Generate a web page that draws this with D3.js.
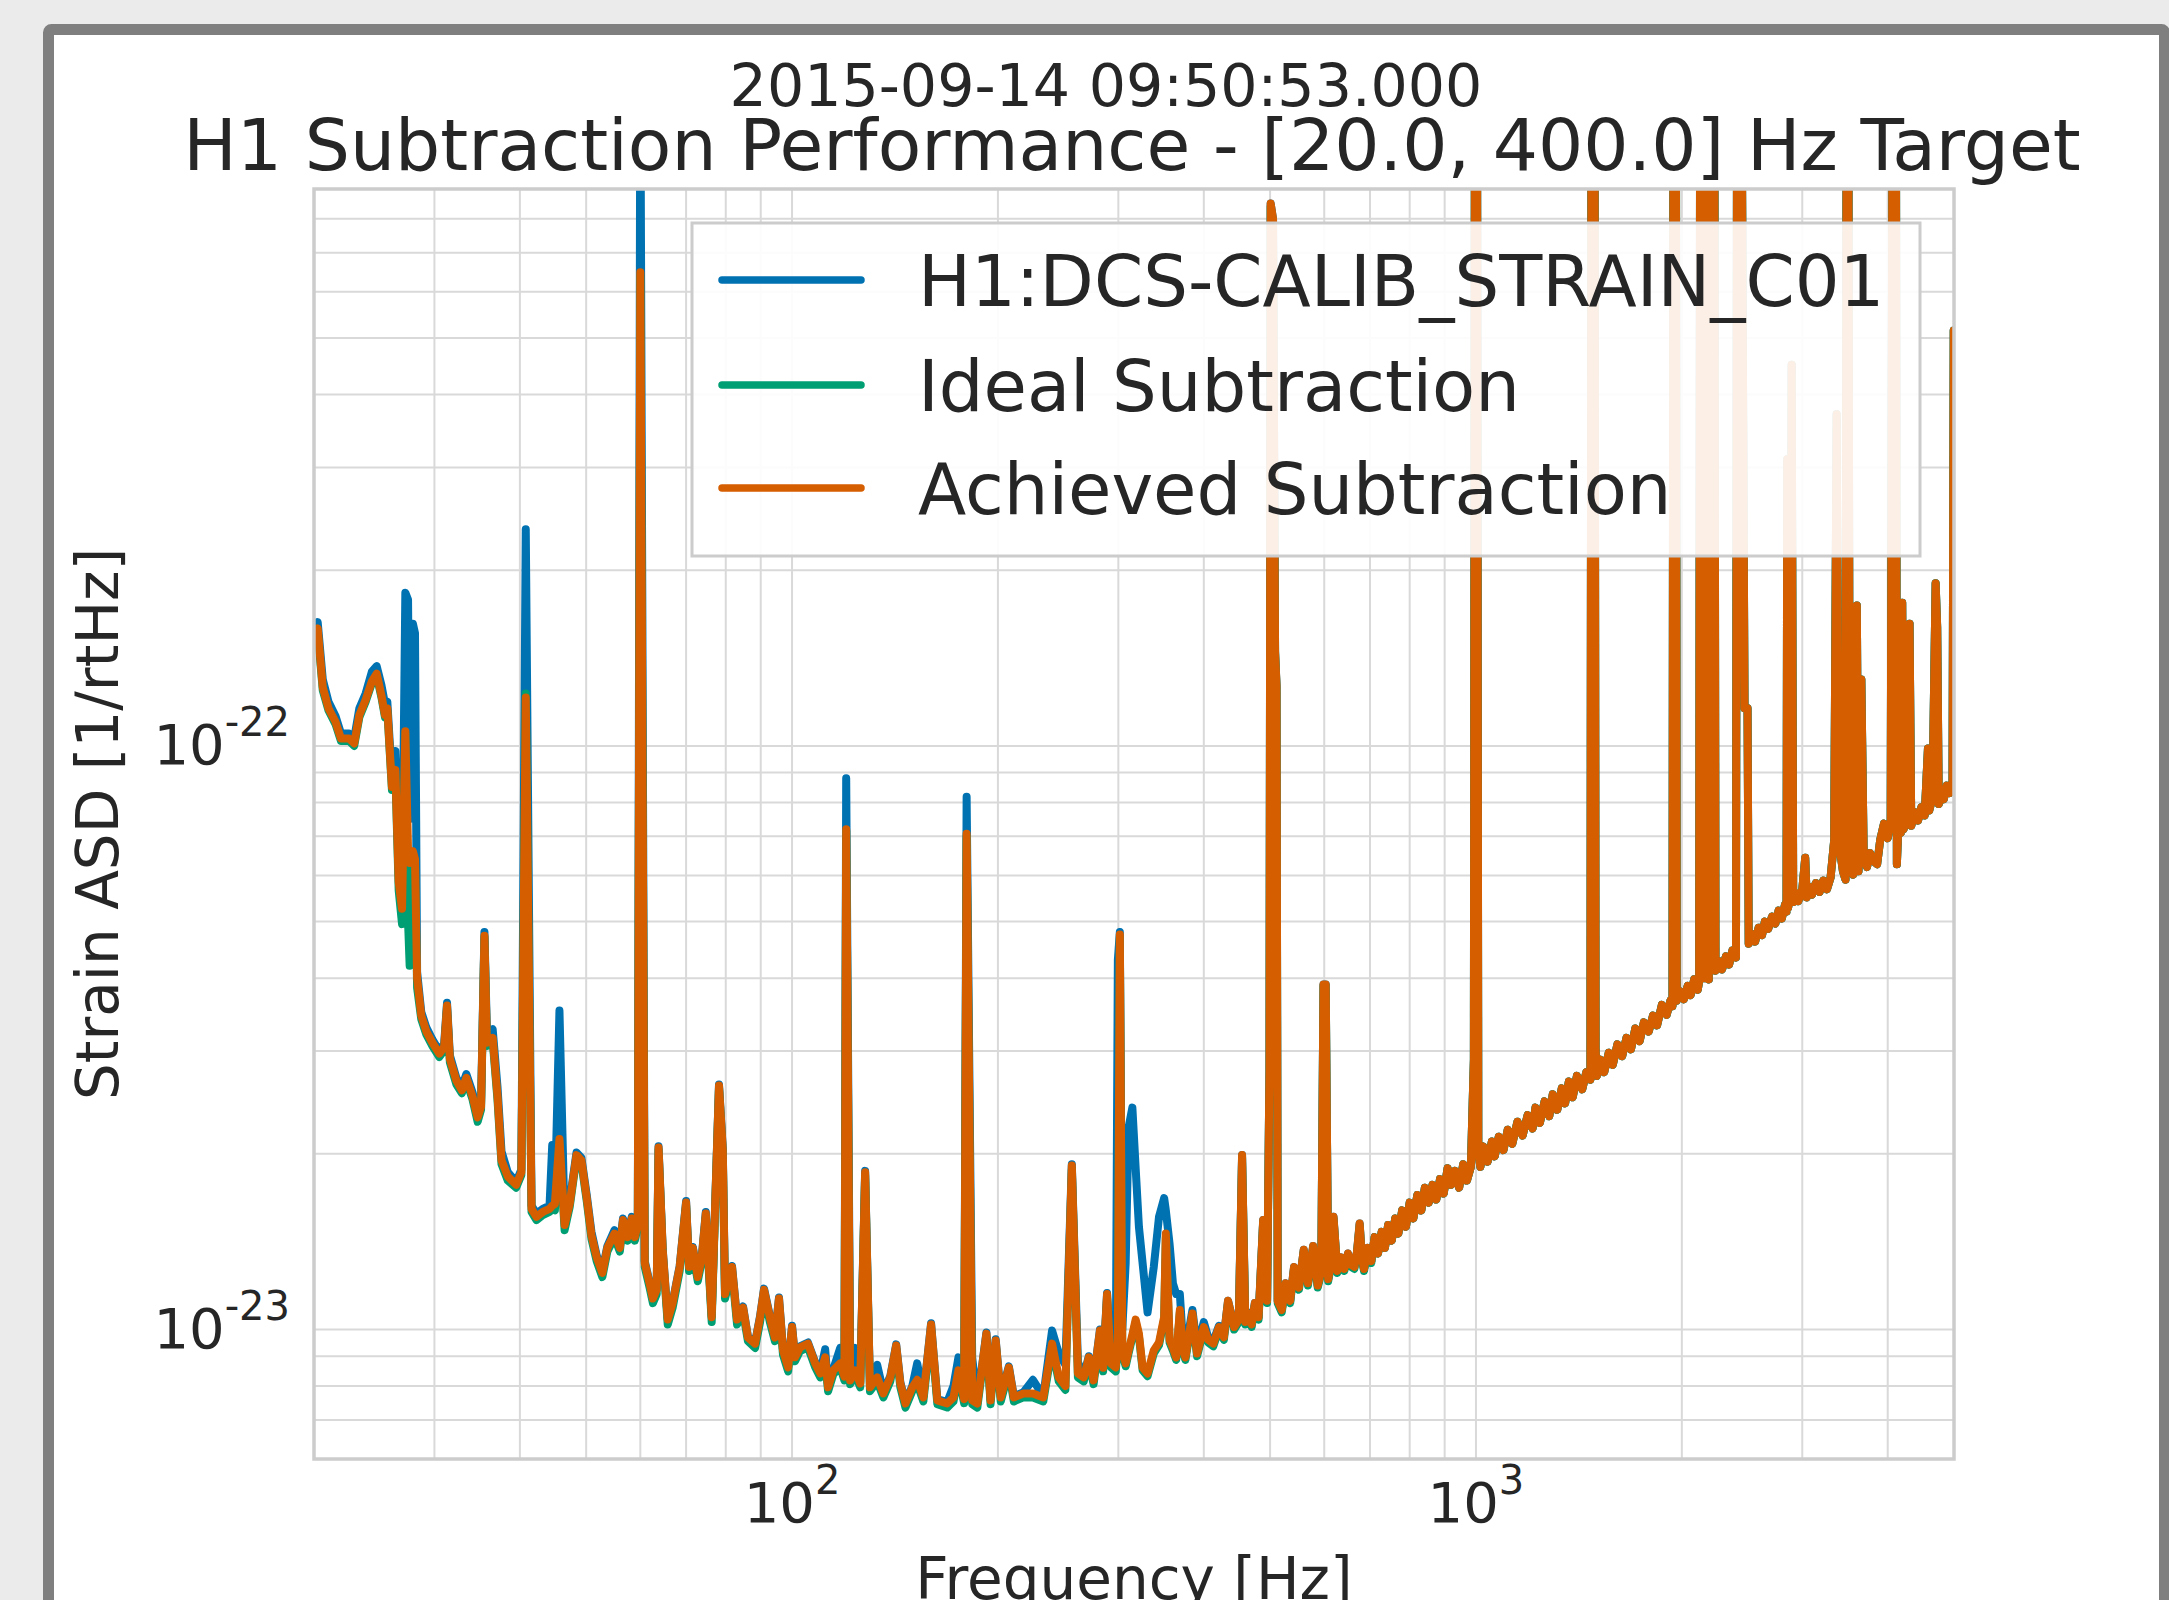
<!DOCTYPE html>
<html>
<head>
<meta charset="utf-8">
<script src="https://cdn.jsdelivr.net/npm/d3@7"></script>
<style>
html,body{margin:0;padding:0;background:#ebebeb;}
svg{display:block;}
text{font-family:"DejaVu Sans",sans-serif;fill:#262626;}
</style>
</head>
<body>
<script>
// ---------------- DATA (ASD values in units of 1e-23 1/rtHz) ----------------
const unit = 1e-23;

// Segment A: 20 - 61 Hz
const freqA = [20.0,20.25,20.6,21.0,21.5,21.9,22.5,22.9,23.3,23.8,24.3,24.7,25.1,25.4,25.6,26.0,26.3,26.6,26.9,27.2,
  27.45,27.6,27.9,28.1,28.3,28.7,29.2,29.8,30.5,31.0,31.3,31.6,32.3,32.9,33.4,34.1,34.7,35.1,35.5,35.8,
  36.5,37.1,37.6,38.4,39.5,40.2,40.8,41.6,42.3,43.2,44.2,44.6,45.0,45.7,46.5,47.3,48.4,49.2,50.1,50.9,
  51.8,52.8,53.7,55.0,56.0,56.6,57.5,58.3,58.9,59.5,60.0,60.9];
const achievedA = [15.3,15.9,12.6,11.6,11.0,10.3,10.3,10.1,11.3,12.0,12.9,13.3,12.2,11.3,11.6,8.5,9.1,5.85,5.26,10.6,
  6.6,6.3,6.6,6.4,4.0,3.45,3.24,3.10,2.97,3.05,3.59,2.91,2.67,2.57,2.70,2.51,2.31,2.41,4.73,3.10,
  3.16,2.51,1.95,1.83,1.77,1.86,12.1,1.61,1.56,1.59,1.61,1.63,1.64,2.12,1.51,1.64,1.99,1.95,1.68,1.45,
  1.33,1.25,1.38,1.46,1.38,1.54,1.44,1.55,1.44,1.52,64.8,1.30];
const originalA = [15.8,16.3,13.0,11.9,11.25,10.5,10.5,10.3,11.6,12.3,13.4,13.7,12.7,11.8,11.9,8.8,9.8,6.1,5.35,18.3,
  17.8,7.5,16.2,15.6,4.1,3.5,3.29,3.14,3.0,3.09,3.63,2.95,2.7,2.6,2.74,2.55,2.34,2.44,4.8,3.22,
  3.27,2.6,2.02,1.86,1.79,1.88,23.5,1.63,1.58,1.61,1.63,2.07,1.66,3.52,1.53,1.66,2.01,1.97,1.7,1.47,
  1.34,1.26,1.39,1.48,1.39,1.55,1.45,1.56,1.45,1.53,150,1.31];
const idealA = [15.1,15.7,12.45,11.5,10.9,10.2,10.2,10.0,11.2,11.9,12.8,13.2,12.1,11.2,11.5,8.4,9.0,5.65,4.95,10.5,
  5.0,4.2,6.4,6.2,3.85,3.4,3.2,3.06,2.93,3.01,3.55,2.87,2.63,2.54,2.67,2.48,2.27,2.38,4.7,3.06,
  3.12,2.47,1.92,1.8,1.75,1.84,12.3,1.59,1.54,1.57,1.59,1.61,1.6,2.09,1.48,1.62,1.97,1.93,1.66,1.43,
  1.31,1.23,1.36,1.44,1.36,1.52,1.42,1.53,1.42,1.5,64,1.28];

// Segment B: 62 - 302 Hz
const freqB = [61.9,62.6,63.4,63.8,64.7,65.8,66.9,68.5,70.0,70.7,71.6,72.8,73.8,74.8,76.3,77.1,78.2,79.2,79.8,81.7,
  83.1,84.8,86.2,88.3,89.8,91.0,92.8,94.4,95.7,97.0,98.7,100,101,102.7,105.5,108.1,110.0,111.8,112.9,114.9,
  117.6,119.3,120.0,121.6,123.7,125.8,127.9,130.0,133.2,136.0,139.2,142.0,144.0,146.5,149.9,152.4,155.6,159.7,163.1,168.6,
  172.2,175.1,178.5,180.0,183.4,186.6,192.4,195.1,198.5,201.9,207.5,211,218,225,233,240,245.5,251,256.5,261.8,
  267,271.6,276,282,285,288.8,292.5,297.4,299.5,301.5];
const achievedB = [1.20,1.13,1.17,2.05,1.37,1.04,1.11,1.28,1.65,1.28,1.38,1.23,1.33,1.58,1.05,1.56,2.62,2.03,1.15,1.28,
  1.04,1.09,0.969,0.946,1.05,1.17,1.05,0.969,1.13,0.921,0.861,1.01,0.896,0.932,0.946,0.875,0.841,0.896,0.796,0.851,
  0.875,0.83,7.2,0.818,0.851,0.808,1.86,0.796,0.828,0.777,0.828,0.939,0.808,0.747,0.796,0.82,0.765,1.02,0.756,0.747,
  0.765,0.851,0.76,7.07,0.756,0.747,0.984,0.756,0.958,0.765,0.861,0.765,0.777,0.777,0.765,0.946,0.828,0.80,1.91,0.841,
  0.828,0.896,0.818,0.996,0.86,1.15,0.875,0.861,0.95,4.75];
const originalB = [1.205,1.135,1.175,2.06,1.375,1.045,1.115,1.285,1.66,1.285,1.385,1.235,1.335,1.59,1.055,1.565,2.63,2.04,1.155,1.285,
  1.045,1.095,0.973,0.95,1.055,1.175,1.055,0.973,1.135,0.925,0.865,1.015,0.9,0.936,0.95,0.879,0.845,0.925,0.8,0.855,
  0.93,0.86,8.8,0.88,0.93,0.812,1.87,0.8,0.87,0.781,0.832,0.943,0.812,0.75,0.8,0.875,0.769,1.025,0.76,0.751,
  0.80,0.896,0.79,8.18,0.896,0.751,0.988,0.76,0.962,0.769,0.865,0.769,0.781,0.82,0.769,0.996,0.91,0.87,1.92,0.88,
  0.832,0.9,0.822,1.0,0.864,1.155,0.879,0.865,4.3,4.8];
const idealB = [1.18,1.11,1.15,2.03,1.35,1.02,1.09,1.26,1.63,1.26,1.36,1.21,1.31,1.56,1.03,1.54,2.6,2.0,1.13,1.26,
  1.02,1.07,0.955,0.93,1.03,1.15,1.03,0.955,1.11,0.905,0.848,0.995,0.882,0.918,0.932,0.862,0.828,0.882,0.784,0.838,
  0.862,0.818,7.15,0.806,0.838,0.796,1.84,0.784,0.815,0.765,0.815,0.925,0.796,0.735,0.784,0.808,0.753,1.0,0.745,0.735,
  0.753,0.838,0.748,7.0,0.745,0.735,0.97,0.745,0.945,0.753,0.848,0.753,0.765,0.765,0.753,0.93,0.815,0.788,1.88,0.828,
  0.815,0.882,0.806,0.98,0.848,1.13,0.862,0.848,0.935,4.7];

// Segment C: 304 - 400 Hz
const freqC = [304,307.5,310.5,314.5,318,321.5,325.5,331,338,344,350,352,356.5,360.5,364.5,369,372.5,376,385,391,400];
const achievedC = [0.92,0.875,0.92,0.98,1.04,0.984,0.861,0.841,0.921,0.95,1.05,1.46,0.96,0.93,0.896,1.08,0.93,0.896,1.065,0.91,1.01];
const originalC = [1.0,1.3,2.22,2.40,1.89,1.5,1.3,1.07,1.28,1.56,1.68,1.6,1.40,1.20,1.15,1.15,0.969,0.92,1.08,0.93,1.03];
const idealC = [0.91,0.865,0.91,0.97,1.03,0.974,0.852,0.832,0.91,0.94,1.04,1.44,0.95,0.92,0.887,1.07,0.92,0.887,1.055,0.9,1.0];

// Segment D: 406 - 1008 Hz
const freqD = [406,413,421,428,434,443,450,455,460,465,470,475,481,488.5,495,499,501,505,508.5,511,
  513,520,527,535,542,551,560,568,578,587,594,598.5,603,608,614,619,627,635,642,650,
  657,664,670,676,681,686,695,703,711,719,728,736,744,753,762,770,780,790,800,810,
  821,832,842,853,864,875,886,897,909,920,932,945,958,970,983,993,997,1003,1008];
const achievedD = [0.96,0.946,1.01,0.97,1.12,1.01,1.04,1.99,1.03,1.065,1.02,1.11,1.05,1.54,1.12,2.8,85,80,14.5,12.7,
  1.12,1.08,1.20,1.12,1.28,1.18,1.37,1.2,1.39,1.19,1.26,3.9,3.9,1.22,1.3,1.56,1.26,1.33,1.27,1.35,
  1.29,1.28,1.36,1.52,1.33,1.27,1.38,1.31,1.44,1.35,1.47,1.38,1.51,1.42,1.55,1.46,1.6,1.5,1.65,1.55,
  1.7,1.6,1.75,1.65,1.77,1.67,1.81,1.71,1.89,1.77,1.87,1.75,1.92,1.8,1.9,2.9,250,250,2.0];
const originalD = [0.97,0.955,1.015,0.975,1.12,1.015,1.045,1.99,1.035,1.07,1.025,1.11,1.05,1.54,1.12,2.8,85,80,14.5,12.7,
  1.12,1.08,1.20,1.12,1.28,1.18,1.37,1.2,1.39,1.19,1.26,3.9,3.9,1.22,1.3,1.56,1.26,1.33,1.27,1.35,
  1.29,1.28,1.36,1.52,1.33,1.27,1.38,1.31,1.44,1.35,1.47,1.38,1.51,1.42,1.55,1.46,1.6,1.5,1.65,1.55,
  1.7,1.6,1.75,1.65,1.77,1.67,1.81,1.71,1.89,1.77,1.87,1.75,1.92,1.8,1.9,2.9,250,250,2.0];
const idealD = [0.95,0.936,1.0,0.96,1.11,1.0,1.03,1.97,1.02,1.055,1.01,1.1,1.04,1.53,1.11,2.78,84,79,14.4,12.6,
  1.11,1.07,1.19,1.11,1.27,1.17,1.36,1.19,1.38,1.18,1.25,3.88,3.88,1.21,1.29,1.55,1.25,1.32,1.26,1.34,
  1.28,1.27,1.35,1.51,1.32,1.26,1.37,1.3,1.44,1.35,1.47,1.38,1.51,1.42,1.55,1.46,1.6,1.5,1.65,1.55,
  1.7,1.6,1.75,1.65,1.77,1.67,1.81,1.71,1.89,1.77,1.87,1.75,1.92,1.8,1.9,2.9,250,250,2.0];

// Segment E: 1015 - 4995 Hz
const freqE = [1015,1025,1040,1055,1065,1080,1097,1113,1130,1150,1170,1190,1210,1222,1240,1260,1280,1295,1315,1335,
  1350,1367,1385,1405,1430,1450,1470,1476,1490,1496,1502,1520,1540,1564,1585,1610,1636,1660,1685,1710,
  1735,1760,1789,1815,1840,1870,1900,1925,1938,1945,1960,1966,1985,2013,2040,2060,2085,2110,2120,2128,
  2150,2160,2175,2190,2200,2230,2240,2265,2290,2320,2345,2371,2400,2410,2440,2470,2495,2505,2533,2560,
  2590,2620,2645,2675,2710,2740,2770,2800,2830,2845,2852,2860,2880,2895,2910,2930,2960,3000,3030,3045,
  3070,3100,3140,3180,3220,3260,3300,3340,3368,3390,3410,3440,3470,3485,3500,3520,3560,3590,3605,3625,
  3660,3690,3730,3770,3810,3860,3900,3950,4000,4040,4070,4110,4125,4150,4180,4200,4220,4260,4305,4330,
  4380,4430,4480,4530,4580,4600,4650,4700,4725,4750,4780,4830,4880,4930,4975,4995];
const achievedE = [1.90,2.06,1.94,2.10,1.98,2.14,2.03,2.20,2.08,2.27,2.15,2.33,2.21,2.40,2.26,2.46,2.32,2.53,2.38,2.59,
  2.44,2.66,2.50,2.72,2.58,2.76,2.68,250,250,3.02,2.72,2.90,2.76,2.98,2.84,3.08,2.94,3.16,3.02,3.28,
  3.12,3.36,3.24,3.45,3.32,3.60,3.46,3.66,3.58,250,250,3.66,3.80,3.68,3.88,3.74,3.98,3.82,3.95,250,
  250,4.0,4.1,3.98,250,250,4.12,4.28,4.14,4.36,4.22,4.46,4.34,250,250,11.6,11.6,4.58,4.76,4.62,
  4.88,4.74,5.0,4.86,5.1,4.96,5.22,5.06,5.34,5.2,31,5.28,5.5,45,5.4,5.6,5.42,5.68,6.43,5.5,
  5.74,5.56,5.82,5.62,5.88,5.68,5.95,6.88,37,7.71,6.56,6.1,5.9,250,250,6.2,6.02,6.3,17.4,6.1,
  13.0,6.4,6.2,6.55,6.35,6.27,6.9,7.36,6.95,7.4,250,250,6.27,7.5,7.1,17.6,7.2,7.55,16.2,7.3,
  7.7,7.45,7.85,7.6,9.9,7.75,8.15,19.0,16.0,7.95,8.4,8.1,8.55,8.3,8.7,51.5];
const originalE = [1.90,2.06,1.94,2.10,1.98,2.14,2.03,2.20,2.08,2.27,2.15,2.33,2.21,2.40,2.26,2.46,2.32,2.53,2.38,2.59,
  2.44,2.66,2.50,2.72,2.58,2.76,2.68,250,250,3.02,2.72,2.90,2.76,2.98,2.84,3.08,2.94,3.16,3.02,3.28,
  3.12,3.36,3.24,3.45,3.32,3.60,3.46,3.66,3.58,250,250,3.66,3.80,3.68,3.88,3.74,3.98,3.82,3.95,250,
  250,4.0,4.1,3.98,250,250,4.12,4.28,4.14,4.36,4.22,4.46,4.34,250,250,11.6,11.6,4.58,4.76,4.62,
  4.88,4.74,5.0,4.86,5.1,4.96,5.22,5.06,5.34,5.2,31,5.28,5.5,45,5.4,5.6,5.42,5.68,6.43,5.5,
  5.74,5.56,5.82,5.62,5.88,5.68,5.95,6.88,37,7.71,6.56,6.1,5.9,250,250,6.2,6.02,6.3,17.4,6.1,
  13.0,6.4,6.2,6.55,6.35,6.27,6.9,7.36,6.95,7.4,250,250,6.27,7.5,7.1,17.6,7.2,7.55,16.2,7.3,
  7.7,7.45,7.85,7.6,9.9,7.75,8.15,19.0,16.0,7.95,8.4,8.1,8.55,8.3,8.7,51.5];
const idealE = [1.90,2.06,1.94,2.10,1.98,2.14,2.03,2.20,2.08,2.27,2.15,2.33,2.21,2.40,2.26,2.46,2.32,2.53,2.38,2.59,
  2.44,2.66,2.50,2.72,2.58,2.76,2.68,250,250,3.02,2.72,2.90,2.76,2.98,2.84,3.08,2.94,3.16,3.02,3.28,
  3.12,3.36,3.24,3.45,3.32,3.60,3.46,3.66,3.58,250,250,3.66,3.80,3.68,3.88,3.74,3.98,3.82,3.95,250,
  250,4.0,4.1,3.98,250,250,4.12,4.28,4.14,4.36,4.22,4.46,4.34,250,250,11.6,11.6,4.58,4.76,4.62,
  4.88,4.74,5.0,4.86,5.1,4.96,5.22,5.06,5.34,5.2,31,5.28,5.5,45,5.4,5.6,5.42,5.68,6.43,5.5,
  5.74,5.56,5.82,5.62,5.88,5.68,5.95,6.88,37,7.71,6.56,6.1,5.9,250,250,6.2,6.02,6.3,17.4,6.1,
  13.0,6.4,6.2,6.55,6.35,6.27,6.9,7.36,6.95,7.4,250,250,6.27,7.5,7.1,17.6,7.2,7.55,16.2,7.3,
  7.7,7.45,7.85,7.6,9.9,7.75,8.15,19.0,16.0,7.95,8.4,8.1,8.55,8.3,8.7,51.5];

const seriesNames = ["H1:DCS-CALIB_STRAIN_C01", "Ideal Subtraction", "Achieved Subtraction"];
const xDomain = [20, 5000];
const yDomain = [6e-24, 9e-22];
const xMajorTicks = [100, 1000];
const xTickExponents = ["2", "3"];
const yMajorTicks = [1e-23, 1e-22];
const yTickExponents = ["-23", "-22"];
const suptitleText = "2015-09-14 09:50:53.000";
const titleText = "H1 Subtraction Performance - [20.0, 400.0] Hz Target";
const xLabelText = "Frequency [Hz]";
const yLabelText = "Strain ASD [1/rtHz]";

// ---------------- ASSEMBLY ----------------
const freq = freqA.concat(freqB, freqC, freqD, freqE);
const original = originalA.concat(originalB, originalC, originalD, originalE);
const ideal = idealA.concat(idealB, idealC, idealD, idealE);
const achieved = achievedA.concat(achievedB, achievedC, achievedD, achievedE);
if (!(freq.length === original.length && freq.length === ideal.length && freq.length === achieved.length)) {
  console.error("length mismatch", freq.length, original.length, ideal.length, achieved.length);
}
const seriesValues = [original, ideal, achieved];
const colors = ["#0072b2", "#009e73", "#d55e00"];

// ---------------- DRAWING ----------------
const W = 2169, H = 1600;
const svg = d3.select("body").append("svg").attr("width", W).attr("height", H);
svg.append("rect").attr("width", W).attr("height", H).attr("fill", "#ebebeb");
svg.append("rect").attr("x", 48.5).attr("y", 29.5).attr("width", 2116).attr("height", 1700)
  .attr("rx", 3).attr("fill", "#ffffff").attr("stroke", "#7f7f7f").attr("stroke-width", 11);

const P = {l: 314, r: 1954, t: 189, b: 1459};
const x = d3.scaleLog().domain(xDomain).range([P.l, P.r]);
const y = d3.scaleLog().domain(yDomain).range([P.b, P.t]);

// grid
const grid = svg.append("g");
grid.selectAll("line.gx").data(x.ticks()).join("line").attr("class", "gx")
  .attr("x1", d => x(d)).attr("x2", d => x(d)).attr("y1", P.t).attr("y2", P.b)
  .attr("stroke", "#d9d9d9").attr("stroke-width", 2);
grid.selectAll("line.gy").data(y.ticks().filter(d => d >= yDomain[0] && d <= yDomain[1])).join("line").attr("class", "gy")
  .attr("y1", d => y(d)).attr("y2", d => y(d)).attr("x1", P.l).attr("x2", P.r)
  .attr("stroke", "#d9d9d9").attr("stroke-width", 2);

// clip
svg.append("defs").append("clipPath").attr("id", "plotclip").append("rect")
  .attr("x", P.l).attr("y", P.t).attr("width", P.r - P.l).attr("height", P.b - P.t);

const lineGen = d3.line().x(d => x(d[0])).y(d => y(d[1] * unit));
const lines = svg.append("g").attr("clip-path", "url(#plotclip)");
seriesValues.forEach((vals, i) => {
  const pts = freq.map((f, k) => [f, vals[k]]);
  lines.append("path").datum(pts).attr("d", lineGen)
    .attr("fill", "none").attr("stroke", colors[i]).attr("stroke-width", 8)
    .attr("stroke-linejoin", "round").attr("stroke-linecap", "round");
});

// spines
svg.append("rect").attr("x", P.l).attr("y", P.t).attr("width", P.r - P.l).attr("height", P.b - P.t)
  .attr("fill", "none").attr("stroke", "#cccccc").attr("stroke-width", 3.5);

// y tick labels
yMajorTicks.forEach((v, i) => {
  const t = svg.append("text").attr("x", 290).attr("y", y(v) + 18).attr("text-anchor", "end")
    .attr("font-size", 56);
  t.append("tspan").text("10");
  t.append("tspan").attr("font-size", 40).attr("dy", -28).text(yTickExponents[i]);
});
// x tick labels
xMajorTicks.forEach((v, i) => {
  const t = svg.append("text").attr("x", x(v)).attr("y", 1522).attr("text-anchor", "middle")
    .attr("font-size", 56);
  t.append("tspan").text("10");
  t.append("tspan").attr("font-size", 40).attr("dy", -28).text(xTickExponents[i]);
});

// axis labels
svg.append("text").attr("x", (P.l + P.r) / 2).attr("y", 1599).attr("text-anchor", "middle")
  .attr("font-size", 58).text(xLabelText);
svg.append("text").attr("transform", `translate(118,${(P.t + P.b) / 2}) rotate(-90)`)
  .attr("text-anchor", "middle").attr("font-size", 58).text(yLabelText);

// titles
svg.append("text").attr("x", 1106).attr("y", 106).attr("text-anchor", "middle")
  .attr("font-size", 58.6).text(suptitleText);
svg.append("text").attr("x", 1132).attr("y", 170).attr("text-anchor", "middle")
  .attr("font-size", 71.2).text(titleText);

// legend
const lg = svg.append("g");
lg.append("rect").attr("x", 692).attr("y", 223).attr("width", 1228).attr("height", 333)
  .attr("fill", "#ffffff").attr("fill-opacity", 0.9).attr("stroke", "#cccccc").attr("stroke-width", 3);
const legendY = [280, 385, 488];
seriesNames.forEach((name, i) => {
  lg.append("line").attr("x1", 722).attr("x2", 861).attr("y1", legendY[i]).attr("y2", legendY[i])
    .attr("stroke", colors[i]).attr("stroke-width", 7.5).attr("stroke-linecap", "round");
  lg.append("text").attr("x", 918).attr("y", legendY[i] + 25.5).attr("font-size", 70.5).text(name);
});
</script>
</body>
</html>
